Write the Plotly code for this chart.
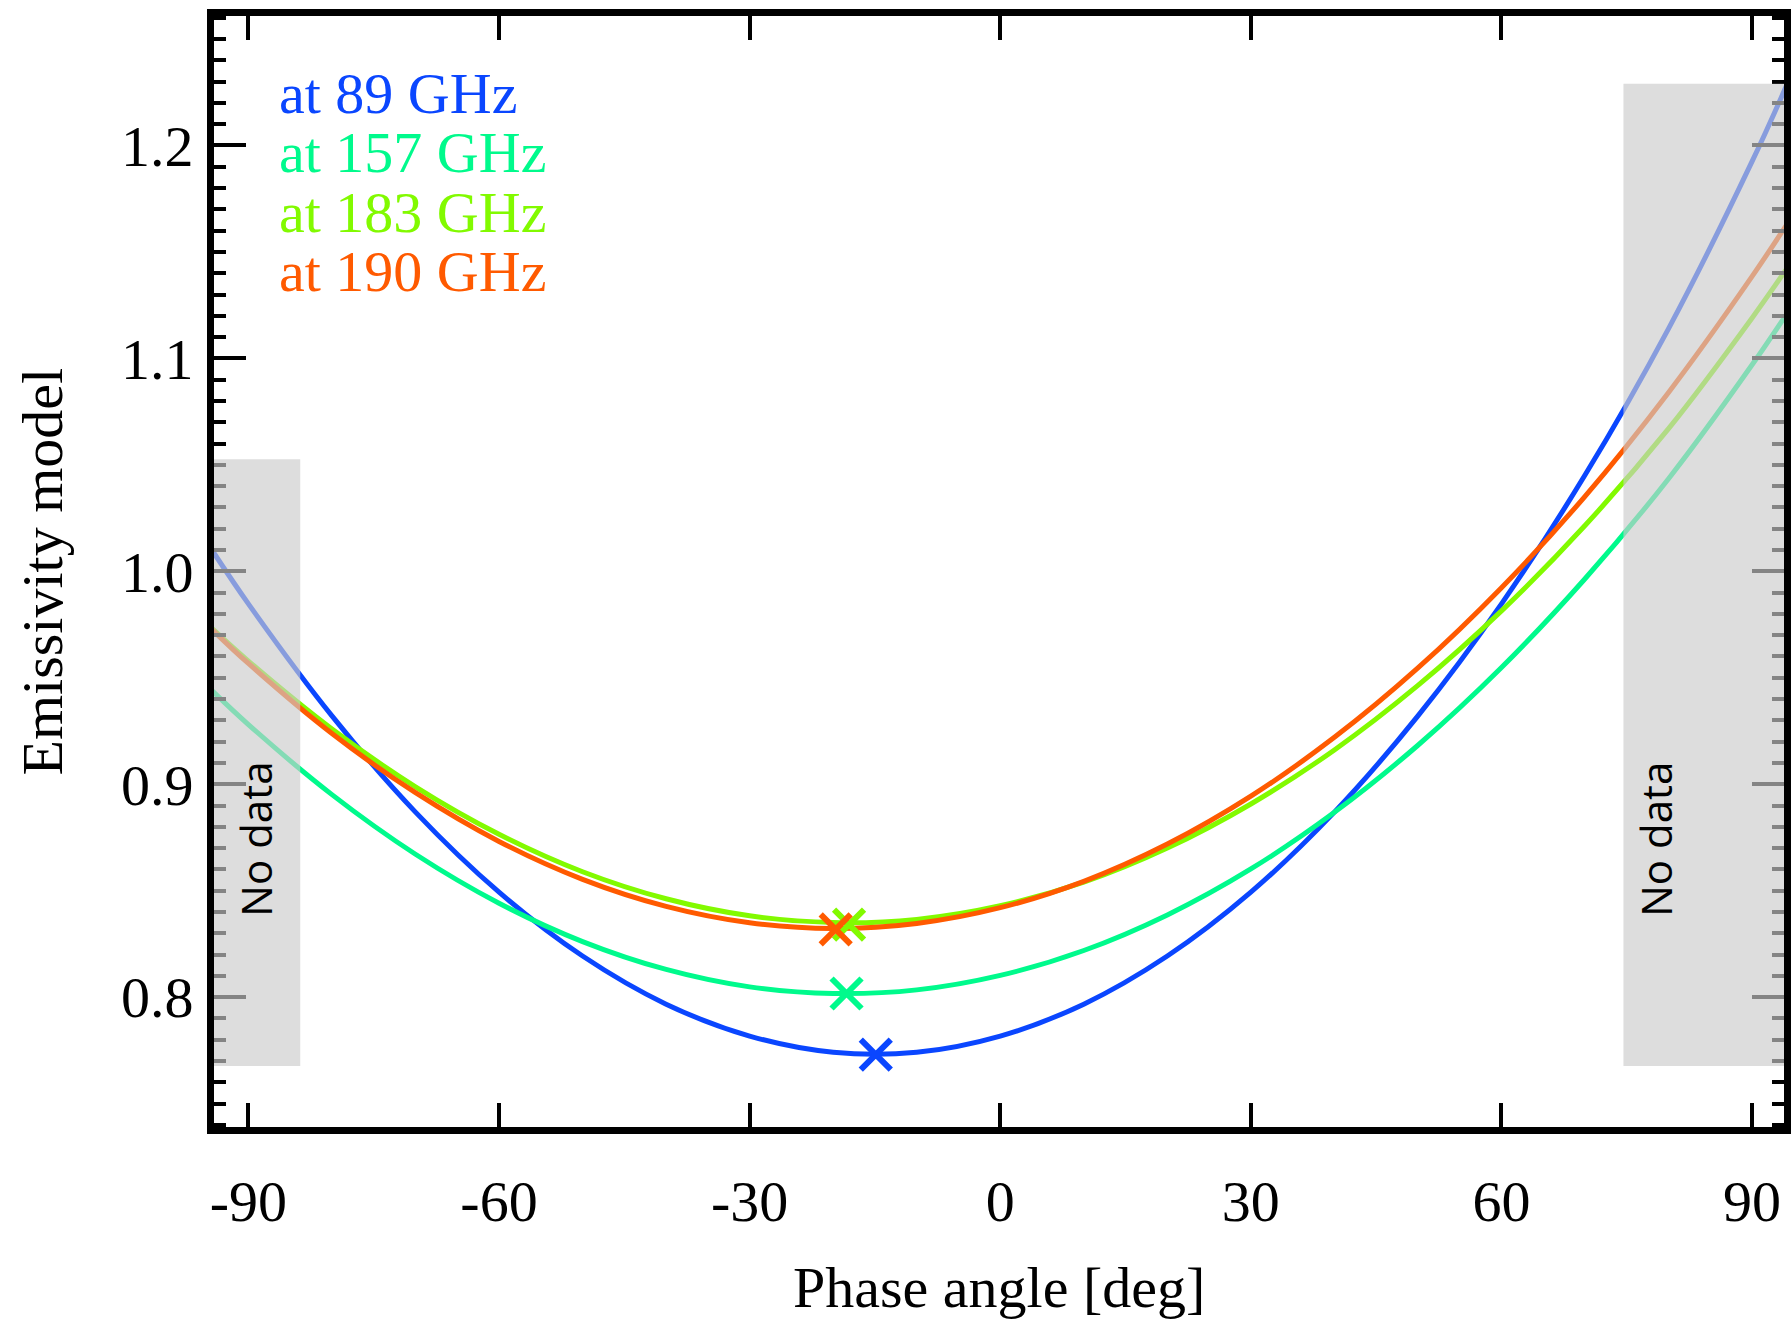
import plotly.graph_objects as go

# ---------------- data ----------------
phase = [-95, -90, -80, -70, -60, -50, -40, -30, -20, -10, 0,
         10, 20, 30, 40, 50, 60, 70, 80, 90, 95]

emis_89 = [1.0138, 0.9847, 0.9321, 0.8869, 0.8493, 0.8193, 0.7967, 0.7817, 0.7741, 0.7741, 0.7817,
           0.7967, 0.8193, 0.8493, 0.8869, 0.9321, 0.9847, 1.0452, 1.1140, 1.1925, 1.2360]
emis_157 = [0.9464, 0.9280, 0.8951, 0.8671, 0.8441, 0.8261, 0.8130, 0.8048, 0.8017, 0.8034, 0.8102,
            0.8219, 0.8386, 0.8602, 0.8868, 0.9183, 0.9548, 0.9965, 1.0435, 1.0970, 1.1260]
emis_183 = [0.9755, 0.9578, 0.9259, 0.8988, 0.8765, 0.8589, 0.8462, 0.8382, 0.8350, 0.8365, 0.8429,
            0.8540, 0.8700, 0.8907, 0.9161, 0.9464, 0.9814, 1.0215, 1.0670, 1.1190, 1.1470]
emis_190 = [0.9751, 0.9567, 0.9238, 0.8960, 0.8731, 0.8553, 0.8426, 0.8349, 0.8322, 0.8346, 0.8420,
            0.8544, 0.8719, 0.8944, 0.9220, 0.9546, 0.9923, 1.0352, 1.0840, 1.1385, 1.1680]

# minima positions (marked with crosses)
min_phase = [-14.9, -18.4, -18.1, -19.7]
min_emis = [0.7730, 0.8017, 0.8340, 0.8318]

labels = ["at 89 GHz", "at 157 GHz", "at 183 GHz", "at 190 GHz"]
colors = ["#0A46FF", "#00FA8C", "#82FA00", "#FF5A00"]

x_ticks = [-90, -60, -30, 0, 30, 60, 90]
x_ticktext = ["-90", "-60", "-30", "0", "30", "60", "90"]
y_ticks = [0.8, 0.9, 1.0, 1.1, 1.2]
y_ticktext = ["0.8", "0.9", "1.0", "1.1", "1.2"]

x_range = [-94.12, 93.82]
y_range = [0.739, 1.2608]

# "No data" regions: [x0, x1, y0, y1]
nodata_left = [-94.12, -83.8, 0.7676, 1.0526]
nodata_right = [74.6, 93.82, 0.7676, 1.229]

x_title = "Phase angle [deg]"
y_title = "Emissivity model"
nodata_text = "No data"

SERIF = "Liberation Serif"
FS = 58

fig = go.Figure()

series = [emis_89, emis_157, emis_183, emis_190]
for vals, col, lab in zip(series, colors, labels):
    fig.add_trace(go.Scatter(x=phase, y=vals, mode="lines", name=lab,
                             line=dict(color=col, width=5, shape="spline", smoothing=1.0),
                             showlegend=False))

for xm, ym, col, lab in zip(min_phase, min_emis, colors, labels):
    fig.add_trace(go.Scatter(x=[xm], y=[ym], mode="markers", name=lab + " min",
                             marker=dict(symbol="x-thin", size=30, color=col,
                                         line=dict(color=col, width=6)),
                             showlegend=False))

# translucent grey "No data" overlays
for r in (nodata_left, nodata_right):
    fig.add_shape(type="rect", xref="x", yref="y", x0=r[0], x1=r[1], y0=r[2], y1=r[3],
                  fillcolor="rgb(203,203,203)", opacity=0.65, line=dict(width=0),
                  layer="above")

# "No data" labels
for xx in (-89.2, 78.4):
    fig.add_annotation(x=xx, y=0.874, xref="x", yref="y", text=nodata_text, textangle=-90,
                       showarrow=False, font=dict(family="Open Sans", size=42, color="black"),
                       xanchor="center", yanchor="middle")

# colored text legend
leg_y = [0.9303, 0.8768, 0.8234, 0.7700]
for lab, col, yy in zip(labels, colors, leg_y):
    fig.add_annotation(x=0.040, y=yy, xref="paper", yref="paper", text=lab, showarrow=False,
                       xanchor="left", yanchor="middle",
                       font=dict(family=SERIF, size=FS, color=col))

# axis titles
fig.add_annotation(x=0.5, y=0, xref="paper", yref="paper", text=x_title, showarrow=False,
                   xanchor="center", yanchor="middle", yshift=-160,
                   font=dict(family=SERIF, size=FS, color="black"))
fig.add_annotation(x=0, y=0.5, xref="paper", yref="paper", text=y_title, showarrow=False,
                   textangle=-90, xanchor="center", yanchor="middle", xshift=-172,
                   font=dict(family=SERIF, size=FS, color="black"))

fig.update_xaxes(range=x_range, tickmode="array", tickvals=x_ticks, ticktext=x_ticktext,
                 ticks="inside", ticklen=24, tickwidth=4, tickcolor="black",
                 showline=True, linewidth=7, linecolor="black", mirror="allticks",
                 showgrid=False, zeroline=False, automargin=False,
                 tickfont=dict(family=SERIF, size=FS, color="black"),
                 ticklabelstandoff=17)
fig.update_yaxes(range=y_range, tickmode="array", tickvals=y_ticks, ticktext=y_ticktext,
                 ticks="inside", ticklen=32, tickwidth=4, tickcolor="black",
                 showline=True, linewidth=7, linecolor="black", mirror="allticks",
                 showgrid=False, zeroline=False, automargin=False,
                 minor=dict(dtick=0.01, tick0=0.8, ticks="inside", ticklen=12, tickwidth=4,
                            tickcolor="black", showgrid=False),
                 tickfont=dict(family=SERIF, size=FS, color="black"),
                 ticklabelstandoff=2)

fig.update_layout(width=1791, height=1319,
                  margin=dict(l=213.5, r=7, t=15.5, b=192),
                  plot_bgcolor="white", paper_bgcolor="white",
                  showlegend=False)

fig.write_html("out.html", config={"displayModeBar": False},
               post_script="document.body.style.margin='0';")
